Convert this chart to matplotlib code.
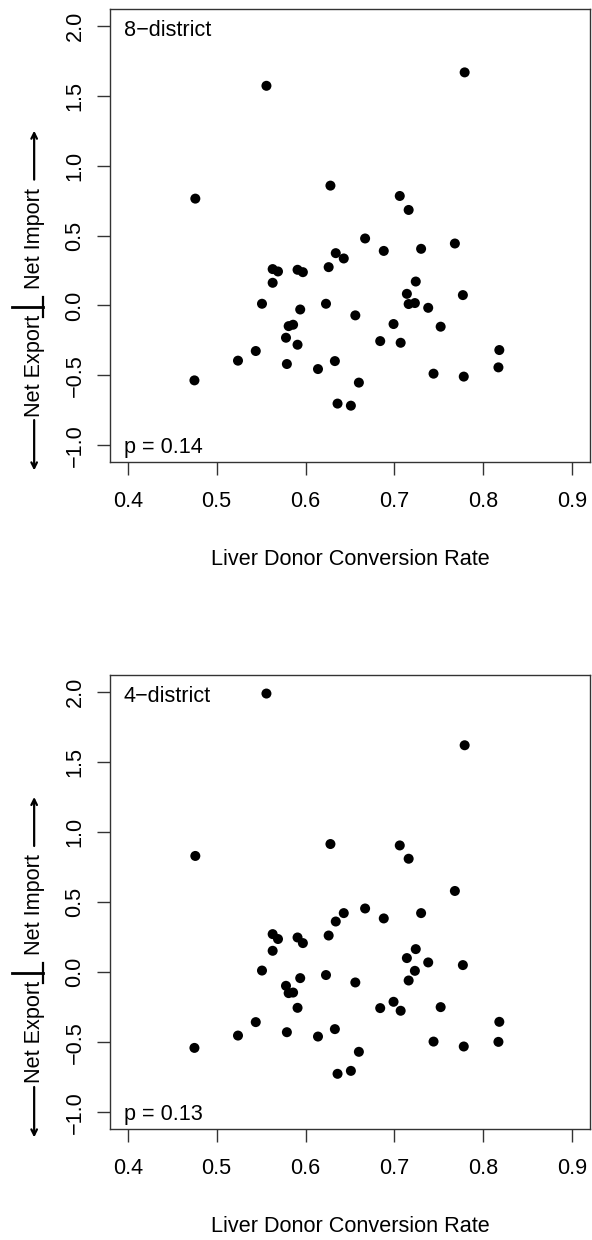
import matplotlib.pyplot as plt

plt.rcParams['font.family'] = ['Liberation Sans', 'DejaVu Sans']

# Tasa de conversión de donantes hepáticos por región (igual en ambos paneles)
conversion = [0.475, 0.476, 0.524, 0.544, 0.551, 0.556, 0.563, 0.563, 0.569, 0.578,
              0.579, 0.581, 0.586, 0.591, 0.591, 0.594, 0.597, 0.614, 0.623, 0.626,
              0.628, 0.633, 0.634, 0.636, 0.643, 0.651, 0.656, 0.660, 0.667, 0.684,
              0.688, 0.699, 0.706, 0.707, 0.714, 0.716, 0.716, 0.723, 0.724, 0.730,
              0.738, 0.744, 0.752, 0.768, 0.777, 0.778, 0.779, 0.817, 0.818]

# Importación neta con 8 distritos
neto_8 = [-0.536, 0.764, -0.395, -0.326, 0.012, 1.571, 0.260, 0.162, 0.243, -0.231,
          -0.419, -0.148, -0.138, 0.255, -0.281, -0.029, 0.238, -0.455, 0.012, 0.274,
          0.857, -0.398, 0.374, -0.702, 0.336, -0.717, -0.071, -0.552, 0.479, -0.255,
          0.390, -0.133, 0.783, -0.267, 0.083, 0.683, 0.010, 0.017, 0.171, 0.405,
          -0.017, -0.488, -0.152, 0.443, 0.074, -0.509, 1.667, -0.443, -0.319]

# Importación neta con 4 distritos
neto_4 = [-0.541, 0.829, -0.453, -0.357, 0.011, 1.988, 0.271, 0.152, 0.236, -0.098,
          -0.429, -0.150, -0.146, 0.247, -0.255, -0.043, 0.207, -0.460, -0.021, 0.261,
          0.914, -0.407, 0.361, -0.726, 0.421, -0.705, -0.074, -0.569, 0.454, -0.257,
          0.383, -0.212, 0.904, -0.276, 0.100, 0.809, -0.060, 0.009, 0.164, 0.421,
          0.069, -0.496, -0.250, 0.579, 0.050, -0.531, 1.619, -0.498, -0.355]

paneles = ['8\u2212district', '4\u2212district']
valores_p = ['p = 0.14', 'p = 0.13']
xticks = [0.4, 0.5, 0.6, 0.7, 0.8, 0.9]
yticks = [-1.0, -0.5, 0.0, 0.5, 1.0, 1.5, 2.0]

fs = 15.6
gris = '#333333'

fig = plt.figure(figsize=(5.92, 12.4), dpi=100)
ax1 = fig.add_axes([0.1858, 0.6274, 0.8108, 0.3653])
ax2 = fig.add_axes([0.1858, 0.0895, 0.8108, 0.3661])

for ax, y, nombre, p in zip([ax1, ax2], [neto_8, neto_4], paneles, valores_p):
    ax.scatter(conversion, y, s=52, color='black', edgecolors='none', zorder=3)
    ax.set_xlim(0.38, 0.92)
    ax.set_ylim(-1.12, 2.12)
    ax.set_xticks(xticks)
    ax.set_xticklabels([f'{t:.1f}' for t in xticks])
    ax.set_yticks(yticks)
    ax.set_yticklabels([f'{t:.1f}'.replace('-', '\u2212') for t in yticks])
    ax.tick_params(axis='both', length=9.6, width=1, color=gris, labelsize=fs)
    ax.tick_params(axis='x', pad=11.5)
    ax.tick_params(axis='y', pad=8, labelrotation=90)
    for lab in ax.get_yticklabels():
        lab.set_va('center')
    for s in ax.spines.values():
        s.set_color(gris)
        s.set_linewidth(1)

    ax.text(0.029, 0.976, nombre, transform=ax.transAxes, fontsize=fs,
            ha='left', va='top')
    ax.text(0.029, 0.02, p, transform=ax.transAxes, fontsize=fs,
            ha='left', va='baseline')
    ax.annotate('Liver Donor Conversion Rate', xy=(0.5, 0), xycoords='axes fraction',
                xytext=(0, -74), textcoords='offset points', fontsize=fs,
                ha='center', va='baseline')

    # Etiqueta del eje y: exportación / importación neta con flechas
    tr = ax.get_yaxis_transform()
    ax.text(-0.146, 0.48, 'Net Import', transform=tr, rotation=90,
            rotation_mode='anchor', ha='center', va='baseline', fontsize=fs)
    ax.text(-0.146, -0.43, 'Net Export', transform=tr, rotation=90,
            rotation_mode='anchor', ha='center', va='baseline', fontsize=fs)
    ax.annotate('', xy=(-0.158, 1.25), xycoords=tr, xytext=(-0.158, 0.9),
                textcoords=tr, annotation_clip=False,
                arrowprops=dict(arrowstyle='->', lw=1.6, color='black',
                                shrinkA=0, shrinkB=0))
    ax.annotate('', xy=(-0.158, -1.18), xycoords=tr, xytext=(-0.158, -0.82),
                textcoords=tr, annotation_clip=False,
                arrowprops=dict(arrowstyle='->', lw=1.6, color='black',
                                shrinkA=0, shrinkB=0))
    # separador entre las dos etiquetas
    ax.plot([-0.204, -0.14], [-0.01, -0.01], transform=tr, color='black',
            lw=2, clip_on=False)
    ax.plot([-0.14, -0.14], [0.062, -0.08], transform=tr, color='black',
            lw=1.6, clip_on=False)

fig.savefig('out.png', dpi=100)
